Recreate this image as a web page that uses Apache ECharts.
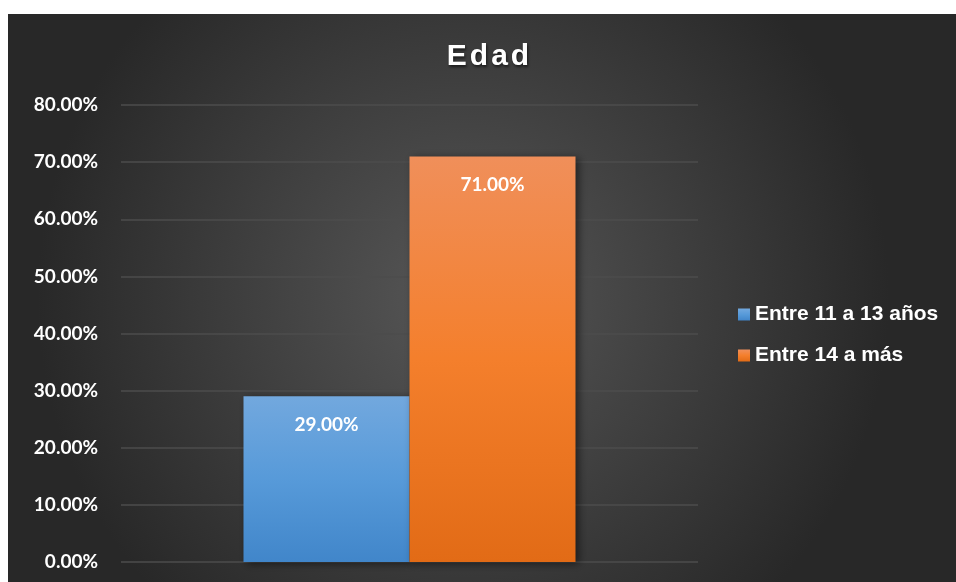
<!DOCTYPE html>
<html>
<head>
<meta charset="utf-8">
<script src="https://cdn.jsdelivr.net/npm/echarts@6/dist/echarts.min.js"></script>
<style>
  html, body { margin: 0; padding: 0; background: #fff; }
  #chart { width: 956px; height: 582px; }
</style>
</head>
<body>
<div id="chart"></div>
<script>
var titleText = 'Edad'
var categories = ['Edad']
var seriesNames = ['Entre 11 a 13 años', 'Entre 14 a más']
var values1113 = [29.0]
var values14 = [71.0]
var yTicks = [0, 10, 20, 30, 40, 50, 60, 70, 80]

function grad (top, bottom) {
  return new echarts.graphic.LinearGradient(0, 0, 0, 1, [
    { offset: 0, color: top },
    { offset: 0.5, color: bottom[0] },
    { offset: 1, color: bottom[1] }
  ])
}

var myChart = echarts.init(document.getElementById('chart'))

var labelStyle = {
  show: true,
  position: 'insideTop',
  distance: 19,
  color: '#fff',
  fontFamily: 'Lato',
  fontWeight: 'bold',
  fontSize: 19,
  formatter: function (p) { return p.value.toFixed(2) + '%' }
}

// spaced-out title letters
var spaced = titleText.split('').map(function (c) { return '{s|' + c + '}' }).join('')

myChart.setOption({
  animation: false,
  graphic: [{
    type: 'rect',
    z: -100,
    silent: true,
    shape: { x: 8, y: 14, width: 948, height: 568 },
    style: {
      fill: new echarts.graphic.RadialGradient(0.48, 0.5, 0.75, [
        { offset: 0, color: '#575757' },
        { offset: 1, color: '#282828' }
      ])
    }
  }],
  title: {
    text: spaced,
    left: 483,
    top: 37,
    textAlign: 'center',
    textStyle: {
      rich: {
        s: {
          color: '#fff',
          fontFamily: 'Liberation Sans',
          fontWeight: 'bold',
          fontSize: 30,
          padding: [0, 1.5, 0, 1.5],
          textShadowColor: 'rgba(0,0,0,0.6)',
          textShadowBlur: 3,
          textShadowOffsetX: 1,
          textShadowOffsetY: 2
        }
      }
    }
  },
  legend: {
    orient: 'vertical',
    left: 738,
    top: 304,
    padding: 0,
    itemWidth: 12,
    itemHeight: 12,
    itemGap: 20,
    icon: 'rect',
    data: seriesNames,
    textStyle: {
      color: '#fff',
      fontFamily: 'Liberation Sans',
      fontWeight: 'bold',
      fontSize: 21
    }
  },
  grid: { left: 121, right: 258, top: 105, bottom: 20 },
  xAxis: {
    type: 'category',
    data: categories,
    axisLine: { show: false },
    axisTick: { show: false },
    axisLabel: { show: false }
  },
  yAxis: {
    type: 'value',
    min: yTicks[0],
    max: yTicks[yTicks.length - 1],
    interval: 10,
    axisLine: { show: false },
    axisTick: { show: false },
    splitLine: { lineStyle: { color: '#4d4d4d', width: 1.5 } },
    axisLabel: {
      margin: 23,
      color: '#fff',
      fontFamily: 'Lato',
      fontWeight: 'bold',
      fontSize: 19,
      formatter: function (v) { return v.toFixed(2) + '%' }
    }
  },
  series: [{
    name: seriesNames[0],
    type: 'bar',
    barWidth: 166,
    barGap: '0%',
    data: values1113,
    itemStyle: {
      color: grad('#72a8de', ['#579ad9', '#4186ca']),
      shadowColor: 'rgba(0,0,0,0.5)',
      shadowBlur: 8,
      shadowOffsetX: 3,
      shadowOffsetY: 2
    },
    label: labelStyle
  }, {
    name: seriesNames[1],
    type: 'bar',
    barWidth: 166,
    barGap: '0%',
    data: values14,
    itemStyle: {
      color: grad('#f08f5a', ['#f47f2c', '#e26b16']),
      shadowColor: 'rgba(0,0,0,0.5)',
      shadowBlur: 8,
      shadowOffsetX: 3,
      shadowOffsetY: 2
    },
    label: labelStyle
  }]
})
</script>
</body>
</html>
